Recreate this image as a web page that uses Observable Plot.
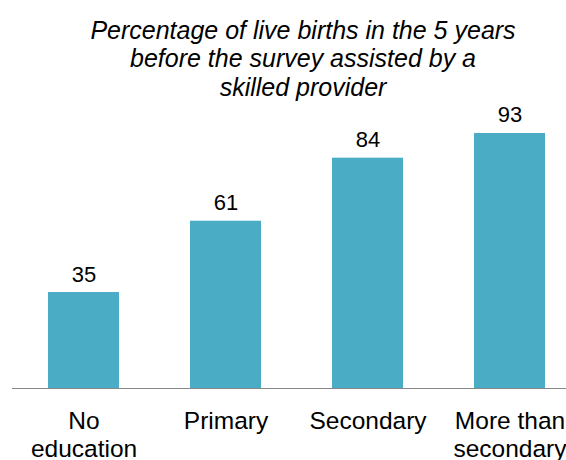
<!DOCTYPE html>
<html>
<head>
<meta charset="utf-8">
<script src="https://cdn.jsdelivr.net/npm/d3@7"></script>
<script src="https://cdn.jsdelivr.net/npm/@observablehq/plot@0.6"></script>
<style>
  html, body { margin: 0; padding: 0; background: #fff; overflow: hidden; }
  #wrap { width: 566px; height: 460px; overflow: hidden; position: relative; }
  #title {
    font-family: "Liberation Sans", Arial, sans-serif;
    font-style: italic;
    font-size: 25px;
    line-height: 28.7px;
    text-align: center;
    color: #000;
    padding-top: 15.5px;
    padding-left: 40px;
    width: 526px;
    height: 79.3px;
    overflow: visible;
    position: relative;
    z-index: 1;
  }
  #chart { width: 566px; overflow: hidden; }
  #chart svg { overflow: hidden; }
</style>
</head>
<body>
<div id="wrap">
  <div id="title">Percentage of live births in the 5 years<br>before the survey assisted by a<br>skilled provider</div>
  <div id="chart"></div>
</div>
<script>
const categories = ["No\neducation", "Primary", "Secondary", "More than\nsecondary"];
const values = [35, 61, 84, 93];

const data = categories.map((c, i) => ({category: c, value: values[i]}));

const plot = Plot.plot({
  width: 566,
  height: 365,
  marginTop: 18.8,
  marginBottom: 72,
  marginLeft: 12,
  marginRight: 0,
  style: {fontFamily: "'Liberation Sans', Arial, sans-serif", background: "transparent", overflow: "hidden"},
  x: {domain: categories, range: [12.5, 580.5], paddingInner: 0.5, paddingOuter: 0.25, axis: null},
  y: {domain: [0, 100], axis: null},
  marks: [
    Plot.barY(data, {x: "category", y: "value", fill: "#4BACC6"}),
    Plot.ruleY([0], {stroke: "#888888", strokeWidth: 1.2}),
    Plot.text(data, {x: "category", y: "value", text: d => String(d.value), lineAnchor: "bottom", dy: -11, fontSize: 22, fill: "#000"}),
    Plot.text(data, {x: "category", y: () => 0, text: "category", lineAnchor: "top", dy: 20.6, fontSize: 24.5, lineHeight: 1.143, fill: "#000"})
  ]
});
document.getElementById("chart").appendChild(plot);
</script>
</body>
</html>
